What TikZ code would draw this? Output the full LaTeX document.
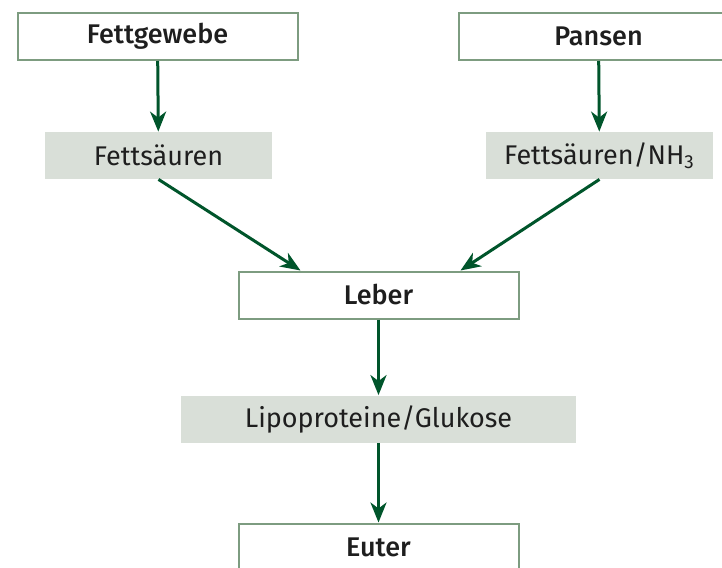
\documentclass[tikz,border=0pt]{standalone}
\usepackage{fontspec}
\setmainfont{Fira Sans}
\newfontfamily\organfont{Fira Sans Medium}
\usetikzlibrary{arrows.meta}

\definecolor{boxgreen}{HTML}{7D9C80}
\definecolor{arrowgreen}{HTML}{00552B}
\definecolor{greyfill}{HTML}{D9DFD8}
\definecolor{textdark}{HTML}{1E1E1E}

\tikzset{
  organ/.style={draw=boxgreen, line width=1pt, fill=white, inner sep=0pt,
    minimum width=140pt, minimum height=23.5pt, text=textdark,
    font=\organfont\fontsize{13.5}{16}\selectfont},
  product/.style={fill=greyfill, inner sep=0pt, minimum height=23.5pt,
    text=textdark, font=\fontsize{13.5}{16}\selectfont},
  flow/.style={draw=arrowgreen, line width=1.5pt,
    -{Stealth[length=10pt, width=8pt, inset=3pt]}}
}

\begin{document}
\begin{tikzpicture}[x=0.5pt, y=-0.5pt]
\useasboundingbox (0,0) rectangle (722,567);

% organs
\node [organ] (fettgewebe) at (157.5, 36.5) {Fettgewebe};
\node [organ] (pansen) at (598.5, 36.5) {Pansen};
\node [organ] (leber) at (378.5, 295) {Leber};
\node [organ] (euter) at (378.5, 547) {Euter};

% products
\node [product, minimum width=113.5pt] (fettsaeuren) at (158.5, 155.5) {Fettsäuren};
\node [product, minimum width=113.5pt] (fettsaeurennh) at (599.5, 155.5) {Fettsäuren/NH\textsubscript{3}};
\node [product, minimum width=197.5pt] (lipo) at (378.5, 419) {Lipoproteine/Glukose};

% arrows
\draw [flow] (fettgewebe) to (fettsaeuren);
\draw [flow] (pansen) to (fettsaeurennh);
\draw [flow] (fettsaeuren.south) to ([xshift=-39pt]leber.north);
\draw [flow] (fettsaeurennh.south) to ([xshift=41pt]leber.north);
\draw [flow] (leber) to (lipo);
\draw [flow] (lipo) to (euter);

\end{tikzpicture}
\end{document}
